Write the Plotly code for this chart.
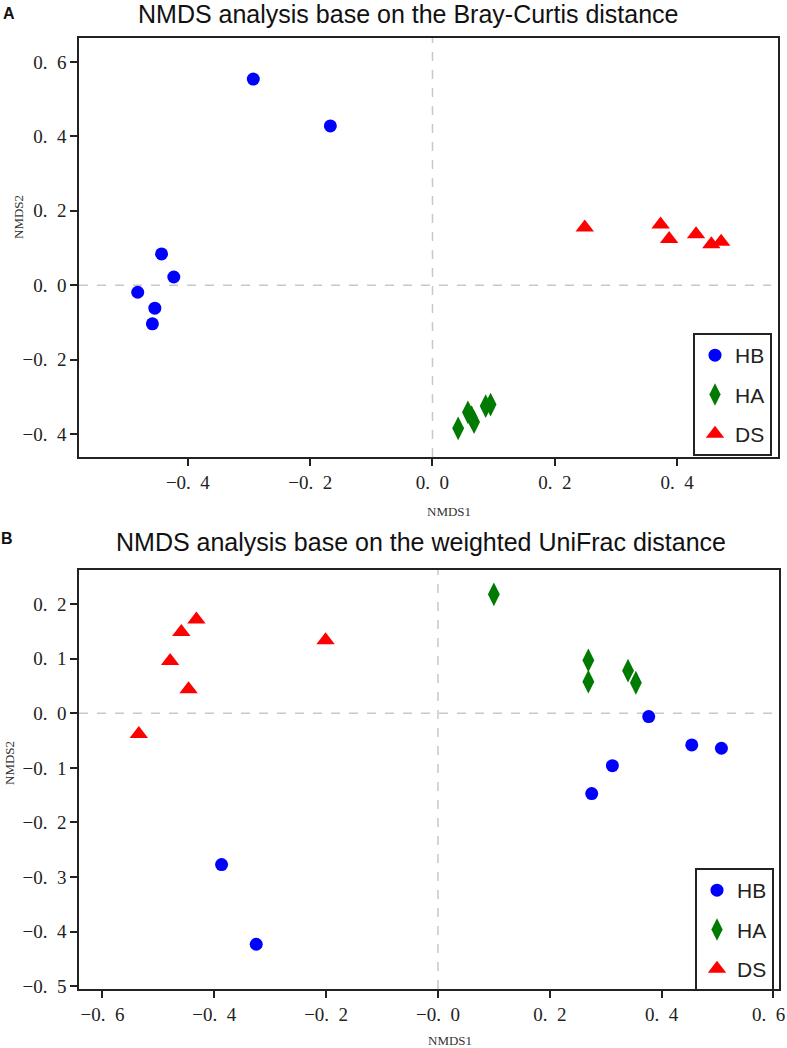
import plotly.graph_objects as go

# ---------------- Data ----------------
# Panel A: Bray-Curtis
a_hb_x = [-0.293, -0.167, -0.443, -0.423, -0.482, -0.454, -0.458]
a_hb_y = [0.554, 0.428, 0.084, 0.022, -0.019, -0.062, -0.104]
a_ha_x = [0.042, 0.058, 0.064, 0.068, 0.087, 0.095]
a_ha_y = [-0.385, -0.342, -0.355, -0.368, -0.325, -0.321]
a_ds_x = [0.249, 0.373, 0.387, 0.431, 0.456, 0.472]
a_ds_y = [0.155, 0.163, 0.124, 0.137, 0.110, 0.117]

# Panel B: weighted UniFrac
b_hb_x = [-0.387, -0.325, 0.377, 0.454, 0.507, 0.312, 0.275]
b_hb_y = [-0.277, -0.423, -0.006, -0.058, -0.064, -0.096, -0.147]
b_ha_x = [0.100, 0.269, 0.269, 0.340, 0.354]
b_ha_y = [0.218, 0.097, 0.058, 0.078, 0.056]
b_ds_x = [-0.432, -0.459, -0.479, -0.446, -0.535, -0.201]
b_ds_y = [0.172, 0.149, 0.096, 0.044, -0.038, 0.134]

groups = ["HB", "HA", "DS"]
S = "\u2002"
a_xticks = [-0.4, -0.2, 0.0, 0.2, 0.4]
a_xticktext = ["−0." + S + "4", "−0." + S + "2", "0." + S + "0", "0." + S + "2", "0." + S + "4"]
a_yticks = [-0.4, -0.2, 0.0, 0.2, 0.4, 0.6]
a_yticktext = ["−0." + S + "4", "−0." + S + "2", "0." + S + "0", "0." + S + "2", "0." + S + "4", "0." + S + "6"]
b_xticks = [-0.6, -0.4, -0.2, 0.0, 0.2, 0.4, 0.6]
b_xticktext = ["−0." + S + "6", "−0." + S + "4", "−0." + S + "2", "−0." + S + "0", "0." + S + "2", "0." + S + "4", "0." + S + "6" + S]
b_yticks = [-0.5, -0.4, -0.3, -0.2, -0.1, 0.0, 0.1, 0.2]
b_yticktext = ["−0." + S + "5", "−0." + S + "4", "−0." + S + "3", "−0." + S + "2", "−0." + S + "1", "0." + S + "0", "0." + S + "1", "0." + S + "2"]

title_a = "NMDS analysis base on the Bray-Curtis distance"
title_b = "NMDS analysis base on the weighted UniFrac distance"

# ---------------- Styles ----------------
W, H = 787, 1048
colors = {"HB": "#0000ff", "HA": "#007a00", "DS": "#ff0000"}
symbols = {"HB": "circle", "HA": "diamond-tall", "DS": "triangle-up"}
sizes = {"HB": 13, "HA": 17, "DS": 16}
serif = "Liberation Serif, DejaVu Serif, serif"
sans = "Arial, Liberation Sans, sans-serif"

def px_x(p):
    return p / W

def px_y(p):
    return 1 - p / H

fig = go.Figure()

panel_data = [
    ("x", "y", "legend", {"HB": (a_hb_x, a_hb_y), "HA": (a_ha_x, a_ha_y), "DS": (a_ds_x, a_ds_y)}),
    ("x2", "y2", "legend2", {"HB": (b_hb_x, b_hb_y), "HA": (b_ha_x, b_ha_y), "DS": (b_ds_x, b_ds_y)}),
]
for xa, ya, lg, d in panel_data:
    for g in groups:
        xs, ys = d[g]
        fig.add_trace(go.Scatter(
            x=xs, y=ys, mode="markers", name=g, xaxis=xa, yaxis=ya,
            legend=lg, legendgroup=lg + g,
            marker=dict(color=colors[g], symbol=symbols[g], size=sizes[g], line=dict(width=0)),
        ))

axis_common = dict(
    showline=True, linecolor="#222222", linewidth=1.6, mirror=True,
    ticks="outside", ticklen=7, tickwidth=1.6, tickcolor="#222222",
    showgrid=False, zeroline=False, ticklabeloverflow="allow",
    tickfont=dict(family=serif, size=19, color="#222222"),
)

fig.update_layout(
    width=W, height=H,
    margin=dict(l=0, r=0, t=0, b=0, autoexpand=False),
    paper_bgcolor="white", plot_bgcolor="white",
    showlegend=True,
    xaxis=dict(domain=[px_x(79), px_x(778)], range=[-0.578, 0.565], anchor="y",
               tickvals=a_xticks, ticktext=a_xticktext, **axis_common),
    yaxis=dict(domain=[px_y(457), px_y(38)], range=[-0.462, 0.6645], anchor="x",
               tickvals=a_yticks, ticktext=a_yticktext, **axis_common),
    xaxis2=dict(domain=[px_x(79), px_x(779)], range=[-0.642, 0.610], anchor="y2",
                tickvals=b_xticks, ticktext=b_xticktext, **axis_common),
    yaxis2=dict(domain=[px_y(989), px_y(570)], range=[-0.505, 0.2625], anchor="x2",
                tickvals=b_yticks, ticktext=b_yticktext, **axis_common),
    legend=dict(x=px_x(693), y=px_y(333), xanchor="left", yanchor="top",
                bordercolor="#222222", borderwidth=2, bgcolor="white",
                font=dict(family=sans, size=21, color="#222222"),
                tracegroupgap=9, itemsizing="trace"),
    legend2=dict(x=px_x(695), y=px_y(868), xanchor="left", yanchor="top",
                 bordercolor="#222222", borderwidth=2, bgcolor="white",
                 font=dict(family=sans, size=21, color="#222222"),
                 tracegroupgap=9, itemsizing="trace"),
)

# dashed zero reference lines
dash_line = dict(color="#c8c8c8", width=1.5, dash="dash")
for xa, ya in [("x", "y"), ("x2", "y2")]:
    fig.add_shape(type="line", xref=xa, yref=ya + " domain", x0=0, x1=0, y0=0, y1=1,
                  line=dash_line, layer="below")
    fig.add_shape(type="line", xref=xa + " domain", yref=ya, x0=0, x1=0.99, y0=0, y1=0,
                  line=dash_line, layer="below")

# titles, panel letters and axis titles
ann = [
    dict(text=title_a, x=px_x(408), y=px_y(14), font=dict(family=sans, size=25, color="#111111")),
    dict(text=title_b, x=px_x(421), y=px_y(542), font=dict(family=sans, size=25, color="#111111")),
    dict(text="<b>A</b>", x=px_x(9), y=px_y(13), font=dict(family=sans, size=16, color="#111111")),
    dict(text="<b>B</b>", x=px_x(7), y=px_y(538), font=dict(family=sans, size=16, color="#111111")),
    dict(text="NMDS1", x=px_x(449), y=px_y(512), font=dict(family=serif, size=13, color="#333333")),
    dict(text="NMDS1", x=px_x(450), y=px_y(1040), font=dict(family=serif, size=13, color="#333333")),
    dict(text="NMDS2", x=px_x(19), y=px_y(217), textangle=-90, font=dict(family=serif, size=13, color="#333333")),
    dict(text="NMDS2", x=px_x(9), y=px_y(763), textangle=-90, font=dict(family=serif, size=13, color="#333333")),
]
for a in ann:
    fig.add_annotation(xref="paper", yref="paper", showarrow=False,
                       xanchor="center", yanchor="middle", **a)

# remove the default page margin so the figure sits at the window's top-left corner
fig.write_html("out.html", config={"displayModeBar": False},
               post_script="document.body.style.margin='0px';")
